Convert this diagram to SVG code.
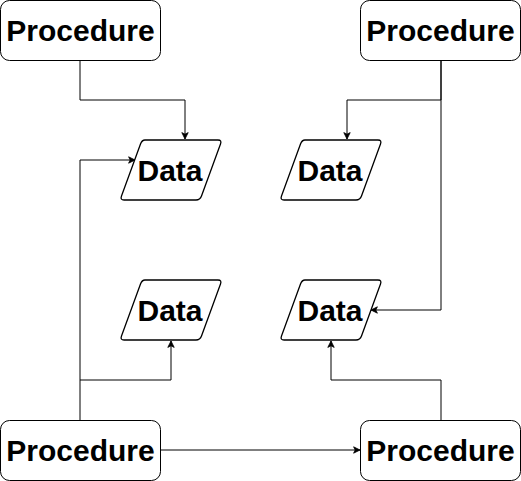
<svg xmlns="http://www.w3.org/2000/svg" width="521" height="481" viewBox="0 0 521 481">
<defs>
<marker id="arr" viewBox="0 0 10 10" refX="9" refY="5" markerWidth="8" markerHeight="8" markerUnits="userSpaceOnUse" orient="auto">
<path d="M1,1 L9,5 L1,9 L3,5 z" fill="#000" stroke="#000" stroke-width="1"/>
</marker>
<style>
.proc{fill:#fff;stroke:#000;stroke-width:1}
.data{fill:#fff;stroke:#000;stroke-width:1.3;stroke-linejoin:round}
.t{font-family:"Liberation Sans",Arial,sans-serif;font-weight:bold;font-size:30px;text-anchor:middle;fill:#000}
.c{fill:none;stroke:#000;stroke-width:1}
</style>
</defs>
<rect width="521" height="481" fill="#fff"/>
<g id="connectors">
<path class="c" d="M80,60 V100 H185 V139" marker-end="url(#arr)"/>
<path class="c" d="M80,420 V160 H135" marker-end="url(#arr)"/>
<path class="c" d="M80,380 H171 V341" marker-end="url(#arr)"/>
<path class="c" d="M441,60 V100 H347 V139" marker-end="url(#arr)"/>
<path class="c" d="M441,60 V310 H371" marker-end="url(#arr)"/>
<path class="c" d="M441,420 V380 H331 V341" marker-end="url(#arr)"/>
<path class="c" d="M160,450 H360" marker-end="url(#arr)"/>
</g>
<g id="proc-tl"><rect class="proc" x="0.5" y="0.5" width="160" height="60" rx="9"/><text class="t" x="80.5" y="41">Procedure</text></g>
<g id="proc-tr"><rect class="proc" x="360.5" y="0.5" width="160" height="60" rx="9"/><text class="t" x="440.5" y="41">Procedure</text></g>
<g id="proc-bl"><rect class="proc" x="0.5" y="420.5" width="160" height="60" rx="9"/><text class="t" x="80.5" y="461">Procedure</text></g>
<g id="proc-br"><rect class="proc" x="360.5" y="420.5" width="160" height="60" rx="9"/><text class="t" x="440.5" y="461">Procedure</text></g>
<g id="data-tl"><path class="data" d="M145,140 H218 Q222,140 220.5,144 L201.5,196 Q200,200 196,200 H124 Q120,200 121.5,196 L140.5,144 Q142,140 145,140 Z"/><text class="t" x="170" y="181">Data</text></g>
<g id="data-bl"><path class="data" d="M145,280 H218 Q222,280 220.5,284 L201.5,336 Q200,340 196,340 H124 Q120,340 121.5,336 L140.5,284 Q142,280 145,280 Z"/><text class="t" x="170" y="321">Data</text></g>
<g id="data-tr"><path class="data" d="M305,140 H378 Q382,140 380.5,144 L361.5,196 Q360,200 356,200 H284 Q280,200 281.5,196 L300.5,144 Q302,140 305,140 Z"/><text class="t" x="330" y="181">Data</text></g>
<g id="data-br"><path class="data" d="M305,280 H378 Q382,280 380.5,284 L361.5,336 Q360,340 356,340 H284 Q280,340 281.5,336 L300.5,284 Q302,280 305,280 Z"/><text class="t" x="330" y="321">Data</text></g>
</svg>
